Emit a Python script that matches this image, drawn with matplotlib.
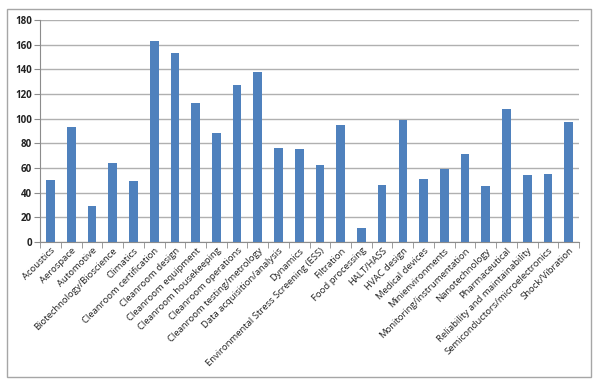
import numpy as np
import matplotlib.pyplot as plt
from matplotlib.patches import Rectangle

categories = ['Acoustics', 'Aerospace', 'Automotive', 'Biotechnology/Bioscience', 'Climatics',
              'Cleanroom certification', 'Cleanroom design', 'Cleanroom equipment',
              'Cleanroom housekeeping', 'Cleanroom operations', 'Cleanroom testing/metrology',
              'Data acquisition/analysis', 'Dynamics', 'Environmental Stress Screening (ESS)',
              'Filtration', 'Food processing', 'HALT/HASS', 'HVAC design', 'Medical devices',
              'Minienvironments', 'Monitoring/instrumentation', 'Nanotechnology', 'Pharmaceutical',
              'Reliability and maintainability', 'Semiconductors/microelectronics', 'Shock/Vibration']
values = [50, 93, 29, 64, 49, 163, 153, 113, 88, 127, 138, 76, 75, 62, 95, 11, 46, 99, 51,
          59, 71, 45, 108, 54, 55, 97]
yticks = [0, 20, 40, 60, 80, 100, 120, 140, 160, 180]

plt.rcParams['font.family'] = ['Open Sans', 'DejaVu Sans']

fig = plt.figure(figsize=(6, 3.89), dpi=100)
ax = fig.add_axes([0.067, 0.378, 0.898, 0.571])

x = np.arange(len(categories))
ax.bar(x, values, width=0.42, color='#4f81bd', zorder=3)

ax.set_xlim(-0.5, len(categories) - 0.5)
ax.set_ylim(0, 180)
ax.set_yticks(yticks)
ax.set_yticklabels([str(t) for t in yticks], fontsize=7, fontweight='bold', color='#222222')
ax.yaxis.grid(True, color='#b0b0b0', linewidth=1, zorder=0)

ax.set_xticks(x)
ax.set_xticklabels(categories, rotation=45, ha='right', rotation_mode='anchor',
                   fontsize=6.8, color='#222222')
ax.tick_params(axis='x', length=0, pad=3)
ax.set_xticks(np.arange(len(categories) + 1) - 0.5, minor=True)
ax.tick_params(axis='x', which='minor', length=4, color='#8c8c8c')
ax.tick_params(axis='y', length=4, color='#8c8c8c', pad=2)

for s in ['top', 'right']:
    ax.spines[s].set_visible(False)
ax.spines['left'].set_color('#8c8c8c')
ax.spines['bottom'].set_color('#8c8c8c')

fig.patches.append(Rectangle((7 / 600, 1 - 377 / 389), 584 / 600, 368 / 389,
                             transform=fig.transFigure, fill=False,
                             edgecolor='#a6a6a6', linewidth=1))

plt.savefig('out.png', dpi=100)
